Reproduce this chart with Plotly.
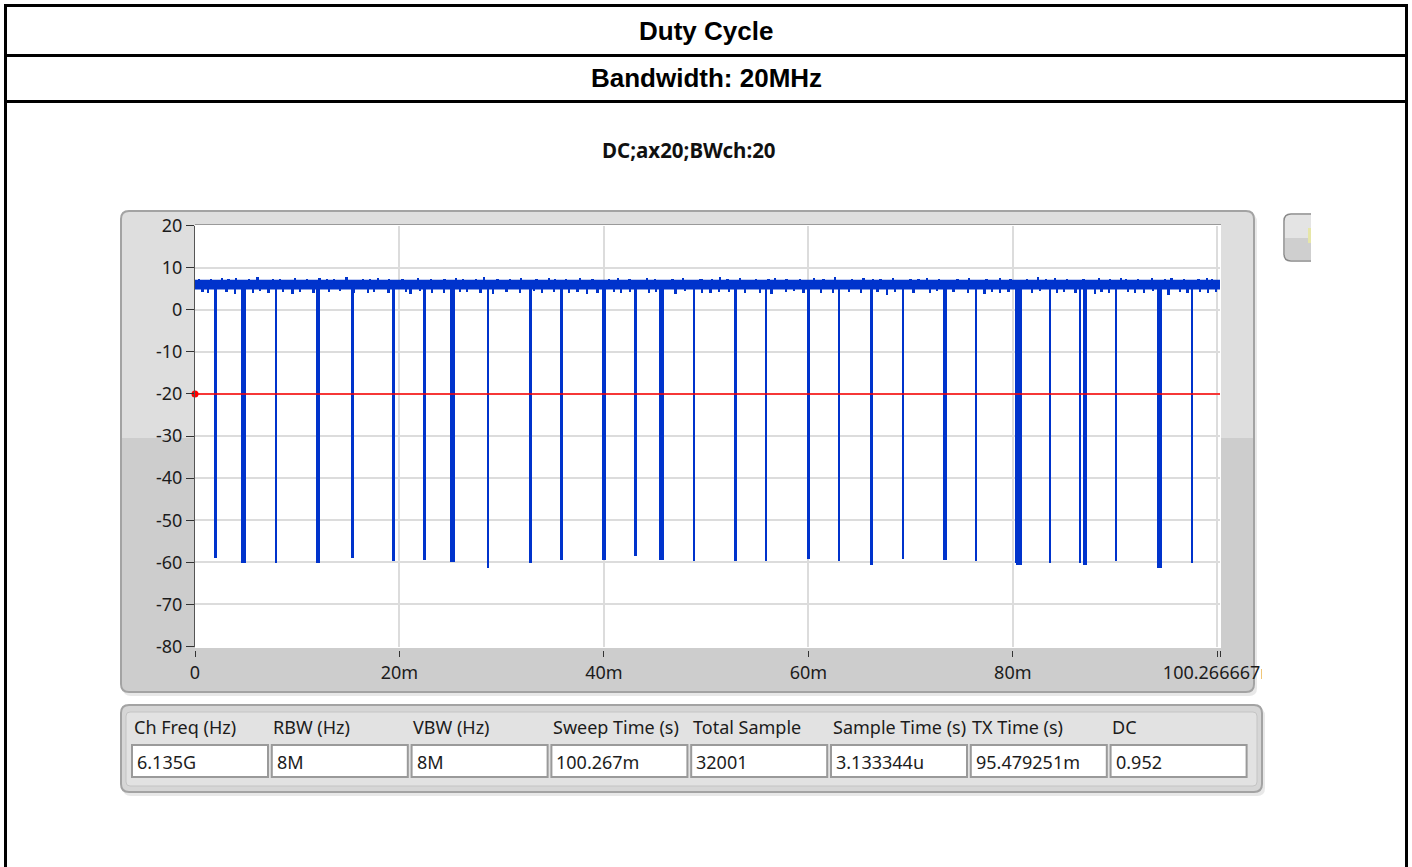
import plotly.graph_objects as go

W, H = 1412, 867

# ---------------- data ----------------
sweep_ms = 100.266667
band_top_db = 7.1
band_bottom_db = 4.8
threshold_db = -20.0

dip_center_ms = [2.03, 4.73, 7.91, 12.05, 15.39, 19.40, 22.44, 25.22, 28.65, 32.83,
                 35.84, 40.01, 43.09, 45.62, 48.80, 52.89, 55.86, 55.86, 60.04, 63.01,
                 66.20, 69.22, 73.40, 76.39, 80.29, 80.60, 83.64, 86.54, 87.09, 90.08,
                 94.39, 97.56, 97.56]
dip_width_ms = [0.25, 0.5, 0.12, 0.38, 0.25, 0.33, 0.25, 0.5, 0.12, 0.33,
                0.25, 0.33, 0.25, 0.5, 0.12, 0.33, 0.12, 0.22, 0.33, 0.25,
                0.33, 0.12, 0.38, 0.25, 0.12, 0.5, 0.25, 0.12, 0.4, 0.25,
                0.5, 0.12, 0.22]
dip_floor_db = [-58.9, -60.0, -60.0, -60.0, -58.8, -59.6, -59.3, -59.7, -61.3, -60.0,
                -59.3, -59.3, -58.5, -59.3, -59.6, -59.6, -59.6, -27.0, -59.0, -59.6,
                -60.6, -59.0, -59.3, -59.6, -60.0, -60.6, -60.0, -60.0, -60.6, -59.6,
                -61.3, -60.0, -20.6]

upper_spike_ms = [0.4, 1.6, 2.7, 3.3, 4.0, 5.3, 6.1, 7.6, 8.3, 9.8, 11.0, 12.2, 12.9, 13.6,
                  14.8, 16.4, 17.1, 17.9, 19.0, 20.3, 21.8, 23.1, 24.4, 25.5, 26.2, 27.5,
                  28.3, 29.6, 30.8, 31.9, 33.4, 34.6, 35.2, 36.3, 37.7, 38.9, 40.5, 41.4,
                  42.5, 44.2, 45.0, 46.7, 47.8, 49.5, 50.6, 51.4, 52.1, 53.3, 54.9, 56.1,
                  56.8, 57.9, 59.2, 60.6, 61.5, 62.6, 64.3, 65.4, 66.3, 67.1, 68.3, 70.0,
                  70.8, 71.6, 72.8, 74.6, 75.7, 77.4, 78.7, 79.8, 81.4, 82.5, 83.3, 84.1,
                  85.3, 86.9, 88.4, 89.5, 90.6, 91.1, 92.3, 93.6, 94.9, 95.5, 96.7, 98.2,
                  99.0, 99.5]
upper_spike_db = [7.5, 7.4, 7.7, 7.4, 7.6, 7.5, 7.8, 7.4, 7.5, 7.7, 7.4, 7.6, 7.5, 7.4,
                  7.8, 7.5, 7.4, 7.6, 7.4, 7.5, 7.7, 7.4, 7.5, 7.6, 7.4, 7.5,
                  7.8, 7.5, 7.4, 7.7, 7.5, 7.6, 7.4, 7.5, 7.7, 7.4, 7.5, 7.6,
                  7.4, 7.7, 7.5, 7.4, 7.6, 7.5, 7.4, 7.8, 7.5, 7.6, 7.4, 7.5,
                  7.7, 7.5, 7.4, 7.6, 7.5, 7.8, 7.4, 7.6, 7.5, 7.4, 7.7, 7.5,
                  7.4, 7.6, 7.5, 7.4, 7.7, 7.5, 7.6, 7.4, 7.5, 7.8, 7.4, 7.6,
                  7.5, 7.4, 7.7, 7.5, 7.6, 7.4, 7.5, 7.7, 7.4, 7.6, 7.5, 7.4,
                  7.6, 7.5]
lower_spike_ms = [0.7, 1.3, 3.1, 3.9, 5.7, 6.4, 7.2, 8.6, 9.5, 10.3, 11.6, 13.1, 14.2,
                  15.6, 16.9, 17.5, 18.9, 20.6, 21.1, 22.0, 23.2, 24.4, 25.9, 26.6,
                  27.9, 29.2, 30.5, 31.8, 33.2, 34.0, 35.1, 36.6, 37.4, 38.3, 39.4,
                  41.0, 41.7, 42.6, 44.4, 45.1, 47.0, 47.9, 49.6, 50.4, 51.3, 52.2,
                  53.8, 55.3, 56.4, 57.8, 58.6, 59.5, 61.2, 62.4, 64.0, 65.2, 66.8,
                  67.7, 68.5, 70.3, 71.9, 72.6, 74.2, 75.6, 77.2, 78.0, 78.8, 79.6,
                  81.9, 82.7, 84.3, 85.0, 86.1, 88.0, 88.7, 89.4, 91.3, 92.0, 92.8,
                  93.7, 95.2, 96.4, 97.1, 98.3, 99.1, 99.9]
lower_spike_db = [4.3, 4.1, 4.4, 3.9, 4.2, 4.5, 4.0, 4.3, 3.8, 4.4, 4.1, 4.3, 4.5,
                  4.0, 4.2, 4.4, 4.1, 4.3, 3.9, 4.5, 4.2, 4.0, 4.3, 4.4,
                  4.1, 3.9, 4.3, 4.2, 4.5, 4.0, 4.3, 4.1, 4.4, 3.8, 4.2,
                  4.3, 4.0, 4.4, 4.1, 4.3, 3.9, 4.5, 4.2, 4.0, 4.3, 4.4,
                  4.1, 4.2, 3.9, 4.3, 4.5, 4.1, 4.2, 4.0, 4.4, 4.1, 4.3,
                  3.7, 4.4, 4.2, 4.0, 4.5, 4.3, 4.1, 3.9, 4.4, 4.2, 4.3,
                  4.0, 4.5, 4.1, 4.3, 4.2, 3.8, 4.4, 4.1, 4.3, 4.0, 4.2,
                  4.5, 3.6, 4.3, 4.1, 4.4, 4.2, 4.3]

x_tickvals = [0, 20, 40, 60, 80, 100, 100.266667]
x_ticktext = ["0", "20m", "40m", "60m", "80m", "", "100.266667m"]
y_tickvals = [20, 10, 0, -10, -20, -30, -40, -50, -60, -70, -80]
y_ticktext = ["20", "10", "0", "-10", "-20", "-30", "-40", "-50", "-60", "-70", "-80"]

table_headers = ["Ch Freq (Hz)", "RBW (Hz)", "VBW (Hz)", "Sweep Time (s)", "Total Sample",
                 "Sample Time (s)", "TX Time (s)", "DC"]
table_values = ["6.135G", "8M", "8M", "100.267m", "32001", "3.133344u", "95.479251m", "0.952"]

page_title = "Duty Cycle"
page_subtitle = "Bandwidth: 20MHz"
chart_title = "DC;ax20;BWch:20"

# ---------------- helpers (pixel -> paper) ----------------
def fx(px):
    return px / W


def fy(py):
    return 1 - py / H


def rpath(x0, y0, x1, y1, rtl, rtr, rbr, rbl):
    p = []
    p.append(f"M{fx(x0 + rtl)},{fy(y0)}")
    p.append(f"L{fx(x1 - rtr)},{fy(y0)}")
    p.append(f"Q{fx(x1)},{fy(y0)} {fx(x1)},{fy(y0 + rtr)}")
    p.append(f"L{fx(x1)},{fy(y1 - rbr)}")
    p.append(f"Q{fx(x1)},{fy(y1)} {fx(x1 - rbr)},{fy(y1)}")
    p.append(f"L{fx(x0 + rbl)},{fy(y1)}")
    p.append(f"Q{fx(x0)},{fy(y1)} {fx(x0)},{fy(y1 - rbl)}")
    p.append(f"L{fx(x0)},{fy(y0 + rtl)}")
    p.append(f"Q{fx(x0)},{fy(y0)} {fx(x0 + rtl)},{fy(y0)}")
    p.append("Z")
    return " ".join(p)


def rrect(x0, y0, x1, y1, r):
    return rpath(x0, y0, x1, y1, r, r, r, r)


def path_shape(path, fill=None, line=None, lw=0, layer="below"):
    d = dict(type="path", xref="paper", yref="paper", path=path, layer=layer)
    d["fillcolor"] = fill if fill else "rgba(0,0,0,0)"
    d["line"] = dict(color=line if line else "rgba(0,0,0,0)", width=lw)
    return d


def rect_shape(x0, y0, x1, y1, fill=None, line=None, lw=0, layer="below"):
    d = dict(type="rect", xref="paper", yref="paper",
             x0=fx(x0), x1=fx(x1), y0=fy(y1), y1=fy(y0), layer=layer)
    d["fillcolor"] = fill if fill else "rgba(0,0,0,0)"
    d["line"] = dict(color=line if line else "rgba(0,0,0,0)", width=lw)
    return d


def line_shape(x0, y0, x1, y1, color, lw, layer="below"):
    return dict(type="line", xref="paper", yref="paper",
                x0=fx(x0), x1=fx(x1), y0=fy(y0), y1=fy(y1),
                line=dict(color=color, width=lw), layer=layer)


def text_ann(px, py, text, size, family, color, xanchor="center"):
    return dict(x=fx(px), y=fy(py), xref="paper", yref="paper", text=text,
                showarrow=False, xanchor=xanchor, yanchor="middle",
                font=dict(family=family, size=size, color=color))


BLUE = "#0033CC"
TXT = "#1c1c1c"
FONT = "Noto Sans"
spike_widths = [0.12, 0.22, 0.15, 0.3, 0.1, 0.18, 0.25, 0.12]

fig = go.Figure()

# noise band (core)
fig.add_trace(go.Scatter(
    x=[0, sweep_ms, sweep_ms, 0],
    y=[band_top_db, band_top_db, band_bottom_db, band_bottom_db],
    fill="toself", fillcolor=BLUE, mode="lines", line=dict(width=0, color=BLUE),
    hoverinfo="skip", showlegend=False))

# upper noise spikes
fig.add_trace(go.Bar(
    x=upper_spike_ms, base=band_top_db - 0.2,
    y=[v - band_top_db + 0.2 for v in upper_spike_db],
    width=[spike_widths[i % len(spike_widths)] for i in range(len(upper_spike_ms))],
    marker=dict(color=BLUE, line=dict(width=0)),
    hoverinfo="skip", showlegend=False))

# lower noise spikes
fig.add_trace(go.Bar(
    x=lower_spike_ms, base=lower_spike_db,
    y=[band_bottom_db + 0.2 - v for v in lower_spike_db],
    width=[spike_widths[(i + 3) % len(spike_widths)] for i in range(len(lower_spike_ms))],
    marker=dict(color=BLUE, line=dict(width=0)),
    hoverinfo="skip", showlegend=False))

# dips (transmission gaps)
fig.add_trace(go.Bar(
    x=dip_center_ms, base=dip_floor_db,
    y=[band_bottom_db + 0.5 - f for f in dip_floor_db],
    width=dip_width_ms, marker=dict(color=BLUE, line=dict(width=0)),
    hoverinfo="skip", showlegend=False))

# threshold line
fig.add_trace(go.Scatter(
    x=[0, sweep_ms], y=[threshold_db, threshold_db], mode="lines",
    line=dict(color="#ff0000", width=1.5), hoverinfo="skip", showlegend=False))
fig.add_trace(go.Scatter(
    x=[0], y=[threshold_db], mode="markers",
    marker=dict(color="#ff0000", size=7, symbol="circle"),
    cliponaxis=False, hoverinfo="skip", showlegend=False))

# ---------------- shapes ----------------
shapes = []
# outer report frame
shapes.append(line_shape(5.5, 4, 5.5, 880, "#000000", 3))
shapes.append(line_shape(1406.5, 4, 1406.5, 880, "#000000", 3))
shapes.append(line_shape(4, 5.5, 1408, 5.5, "#000000", 3))
shapes.append(line_shape(4, 55.5, 1408, 55.5, "#000000", 3))
shapes.append(line_shape(4, 101.5, 1408, 101.5, "#000000", 3))

# graph panel
shapes.append(path_shape(rrect(123, 214, 1257, 696, 8), fill="#e8e8e8"))
shapes.append(path_shape(rrect(121, 211, 1254, 692, 8), fill="#dedede"))
shapes.append(path_shape(rpath(122, 438, 1253, 691, 0, 0, 7, 7), fill="#cdcdcd"))
shapes.append(path_shape(rrect(121, 211, 1254, 692, 8), line="#a3a3a3", lw=2))
shapes.append(rect_shape(195, 224, 1221, 648, fill="#ffffff"))
shapes.append(line_shape(195, 224.5, 1221, 224.5, "#9a9a9a", 1))

# right-hand button (cut off)
shapes.append(rect_shape(1285, 215, 1311, 238, fill="#e4e4e4"))
shapes.append(rect_shape(1285, 238, 1311, 260, fill="#cfcfcf"))
btn = (f"M{fx(1311)},{fy(214)} L{fx(1291)},{fy(214)} Q{fx(1284)},{fy(214)} {fx(1284)},{fy(221)} "
       f"L{fx(1284)},{fy(254)} Q{fx(1284)},{fy(261)} {fx(1291)},{fy(261)} L{fx(1311)},{fy(261)}")
shapes.append(path_shape(btn, line="#8a8a8a", lw=1.5))
shapes.append(rect_shape(1308, 228, 1311, 243, fill="#e6e6a8"))

# table panel
shapes.append(path_shape(rrect(123, 708, 1265, 796, 8), fill="#e8e8e8"))
shapes.append(path_shape(rrect(121, 705, 1262, 792, 8), fill="#d6d6d6"))
shapes.append(path_shape(rrect(126, 712, 1257, 786, 4), fill="#e2e2e2", line="#c4c4c4", lw=1))
shapes.append(path_shape(rrect(121, 705, 1262, 792, 8), line="#a3a3a3", lw=2))

annotations = []
box_x0 = [132 + 139.8 * i for i in range(len(table_headers))]
for x0, head, val in zip(box_x0, table_headers, table_values):
    shapes.append(rect_shape(x0, 745, x0 + 136, 777, fill="#ffffff", line="#9a9a9a", lw=2))
    annotations.append(text_ann(x0 - 0.5, 727, head, 18, FONT, TXT, xanchor="left"))
    annotations.append(text_ann(x0 + 3, 762, val, 18, FONT, TXT, xanchor="left"))

# clip the last x tick label at the panel edge
shapes.append(rect_shape(1262, 658, 1300, 688, fill="#ffffff", layer="above"))

annotations.append(text_ann(706, 31, f"<b>{page_title}</b>", 26, "Liberation Sans", "#000000"))
annotations.append(text_ann(706, 78, f"<b>{page_subtitle}</b>", 26, "Liberation Sans", "#000000"))
annotations.append(text_ann(689, 150, f"<b>{chart_title}</b>", 20.5, FONT, "#111111"))

fig.update_layout(
    width=W, height=H, margin=dict(l=0, r=0, t=0, b=0, pad=0, autoexpand=False),
    paper_bgcolor="#ffffff", plot_bgcolor="rgba(0,0,0,0)",
    barmode="overlay", bargap=0, showlegend=False,
    shapes=shapes, annotations=annotations,
    xaxis=dict(domain=[fx(195), fx(1220)], range=[0, sweep_ms],
               anchor="free", position=fy(650), automargin=False,
               tickvals=x_tickvals, ticktext=x_ticktext,
               ticks="outside", ticklen=6, tickwidth=1, tickcolor="#333333",
               showline=False, zeroline=False,
               showgrid=True, gridcolor="#dcdcdc", gridwidth=1.5,
               tickfont=dict(family=FONT, size=18, color=TXT)),
    yaxis=dict(domain=[fy(646.5), fy(225.5)], range=[-80, 20], anchor="x", automargin=False,
               tickvals=y_tickvals, ticktext=y_ticktext,
               ticks="outside", ticklen=8, tickwidth=1, tickcolor="#333333",
               showline=True, linecolor="#555555", linewidth=1, zeroline=False,
               showgrid=True, gridcolor="#dcdcdc", gridwidth=1.5,
               tickfont=dict(family=FONT, size=18, color=TXT)),
)

fig.write_html("out.html", config={"displayModeBar": False},
               post_script="document.body.style.margin='0';")
